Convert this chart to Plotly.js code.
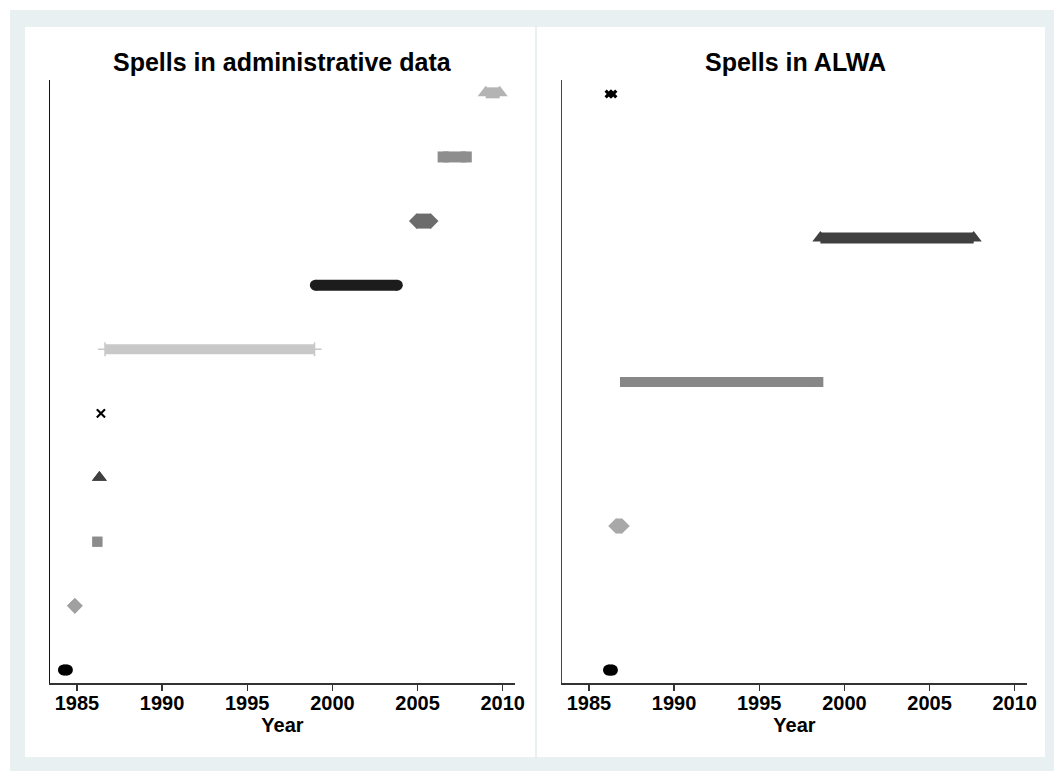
<!DOCTYPE html>
<html>
<head>
<meta charset="utf-8">
<script src="https://cdn.plot.ly/plotly-3.0.1.min.js"></script>
<style>
  html, body { margin: 0; padding: 0; background: #ffffff; }
  #chart { width: 1054px; height: 771px; }
</style>
</head>
<body>
<div id="chart"></div>
<script>
// ---- Data: spells (start year, end year) per row ----
const adminRows  = [1, 2, 3, 4, 5, 6, 7, 8, 9, 10];
const adminStart = [1984.21, 1984.88, 1986.20, 1986.32, 1986.41, 1986.65, 1999.00, 2004.95, 2006.50, 2009.00];
const adminEnd   = [1984.44, 1984.88, 1986.20, 1986.32, 1986.41, 1998.95, 2003.81, 2005.77, 2007.86, 2009.82];

const alwaRows  = [1, 2, 3, 4, 5];
const alwaStart = [1986.15, 1986.59, 1987.12, 1998.59, 1986.18];
const alwaEnd   = [1986.38, 1986.94, 1998.47, 2007.59, 1986.41];

const tickYears = [1985, 1990, 1995, 2000, 2005, 2010];
const panelTitles = ["Spells in administrative data", "Spells in ALWA"];
const xTitle = "Year";

// ---- Styles ----
const adminStyle = [
  {sym: "circle",      size: 11, color: "#000000", lw: 11},
  {sym: "diamond",     size: 12, color: "#a0a0a0", lw: 15},
  {sym: "square",      size: 10, color: "#8c8c8c", lw: 10},
  {sym: "triangle-up", size: 13, color: "#404040", lw: 10},
  {sym: "x-thin",      size: 8,  color: "#000000", lw: 1.5, mlw: 1.8},
  {sym: "cross-thin",  size: 10, color: "#c8c8c8", lw: 10, mlw: 1.5},
  {sym: "circle",      size: 11, color: "#1c1c1c", lw: 11},
  {sym: "diamond",     size: 12, color: "#6c6c6c", lw: 15},
  {sym: "square",      size: 11, color: "#8e8e8e", lw: 11},
  {sym: "triangle-up", size: 14, color: "#b4b4b4", lw: 11}
];
const alwaStyle = [
  {sym: "circle",      size: 11, color: "#000000", lw: 11},
  {sym: "diamond",     size: 12, color: "#a8a8a8", lw: 15},
  {sym: "square",      size: 10, color: "#878787", lw: 10},
  {sym: "triangle-up", size: 14, color: "#404040", lw: 11},
  {sym: "x",           size: 8,  color: "#000000", lw: 3}
];

function spellTraces(rows, starts, ends, styles, xa, ya) {
  return rows.map((r, i) => {
    const s = styles[i];
    return {
      type: "scatter",
      mode: "lines+markers",
      x: [starts[i], ends[i]],
      y: [r, r],
      xaxis: xa, yaxis: ya,
      line: {color: s.color, width: s.lw},
      marker: {
        symbol: s.sym, size: s.size, color: s.color,
        line: s.mlw ? {color: s.color, width: s.mlw} : {width: 0}
      },
      hoverinfo: "x+y",
      showlegend: false
    };
  });
}

const data = [].concat(
  spellTraces(adminRows, adminStart, adminEnd, adminStyle, "x", "y"),
  spellTraces(alwaRows, alwaStart, alwaEnd, alwaStyle, "x2", "y2")
);

const W = 1054, H = 771;
const px = v => v / W, py = v => 1 - v / H;

const FAM = "Liberation Sans, Arial, sans-serif";
const axisFont = {family: FAM, size: 20, color: "#000000", weight: "bold"};
function xAxis(domain, anchor) {
  return {
    domain: domain, anchor: anchor,
    range: [1983.42, 2010.72],
    tickmode: "array", tickvals: tickYears, ticktext: tickYears.map(String),
    ticks: "outside", ticklen: 6, tickwidth: 1.3, tickcolor: "#333333",
    ticklabelstandoff: -5,
    showline: true, linecolor: "#333333", linewidth: 1.5,
    showgrid: false, zeroline: false,
    tickfont: axisFont,
    title: {text: xTitle, font: axisFont, standoff: 0}
  };
}
function yAxis(range, anchor, lc) {
  return {
    domain: [py(683), py(80)], anchor: anchor,
    range: range,
    showline: true, linecolor: lc, linewidth: 1.5,
    showticklabels: false, ticks: "", showgrid: false, zeroline: false
  };
}

const layout = {
  width: W, height: H,
  margin: {l: 0, r: 0, t: 0, b: 0},
  paper_bgcolor: "#ffffff",
  plot_bgcolor: "rgba(0,0,0,0)",
  showlegend: false,
  xaxis: xAxis([px(50), px(515)], "y"),
  yaxis: yAxis([0.797, 10.2], "x", "#111111"),
  xaxis2: xAxis([px(562), px(1027)], "y2"),
  yaxis2: yAxis([0.91, 5.097], "x2", "#444444"),
  shapes: [
    {type: "rect", xref: "paper", yref: "paper", layer: "below",
     x0: px(10), x1: px(1054), y0: py(771), y1: py(10),
     fillcolor: "#e9f0f2", line: {width: 0}},
    {type: "rect", xref: "paper", yref: "paper", layer: "below",
     x0: px(25), x1: px(535), y0: py(757), y1: py(27),
     fillcolor: "#ffffff", line: {width: 0}},
    {type: "rect", xref: "paper", yref: "paper", layer: "below",
     x0: px(537), x1: px(1045), y0: py(757), y1: py(27),
     fillcolor: "#ffffff", line: {width: 0}}
  ],
  annotations: panelTitles.map((t, i) => ({
    text: t, xref: "paper", yref: "paper",
    x: i === 0 ? px(282) : px(795), y: py(62),
    xanchor: "center", yanchor: "middle", showarrow: false,
    font: {family: FAM, size: 25, color: "#000000", weight: "bold"}
  }))
};

Plotly.newPlot("chart", data, layout, {staticPlot: true, displayModeBar: false});
</script>
</body>
</html>
